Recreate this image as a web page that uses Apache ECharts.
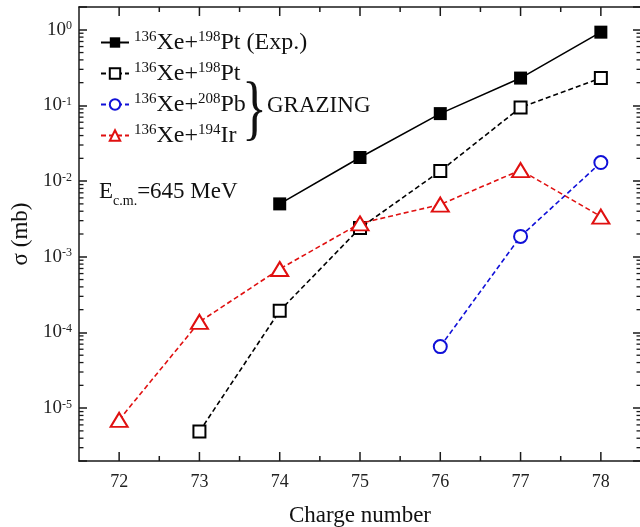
<!DOCTYPE html>
<html><head><meta charset="utf-8">
<script src="https://cdn.jsdelivr.net/npm/echarts@6/dist/echarts.min.js"></script>
<style>html,body{margin:0;padding:0;background:#fff}#c{width:640px;height:527px}</style>
</head><body><div id="c"></div>
<script>
// ---- data ----
const chargeNumbers = [72, 73, 74, 75, 76, 77, 78];
const expPt      = [null, null, 5.0e-3, 2.05e-2, 7.8e-2, 0.23, 0.93];
const grazingPt  = [null, 4.9e-6, 1.93e-4, 2.4e-3, 1.36e-2, 9.4e-2, 0.23];
const grazingPb  = [null, null, null, null, 6.5e-5, 1.86e-3, 1.76e-2];
const grazingIr  = [7.0e-6, 1.38e-4, 6.9e-4, 2.76e-3, 4.9e-3, 1.4e-2, 3.4e-3];
const xTickLabels = [72, 73, 74, 75, 76, 77, 78];
const yTickExponents = [-5, -4, -3, -2, -1, 0];

const FONT = '"Liberation Serif", "Times New Roman", serif';
const AX = '#1a1a1a';
const X_MIN = 71.5, X_MAX = 78.5, Y_MIN = 2e-6, Y_MAX = 2;

function pairs(arr) {
  return chargeNumbers.map((c, i) => [c, arr[i]]).filter(p => p[1] != null);
}
// tick positions (axis decoration)
const yMinor = [];
for (let e = -6; e <= 0; e++) for (let k = 2; k <= 9; k++) {
  const v = k * Math.pow(10, e);
  if (v > Y_MIN && v < Y_MAX) yMinor.push([75, v]);
}
const xTicks = [];
xTickLabels.forEach((t, i) => {
  xTicks.push([t, 9]);
  if (i < xTickLabels.length - 1) xTicks.push([t + 0.5, 5]);
});

const legendText = {
  'exp': '{sup|136}Xe+{sup|198}Pt (Exp.)',
  'pt': '{sup|136}Xe+{sup|198}Pt',
  'pb': '{sup|136}Xe+{sup|208}Pb',
  'ir': '{sup|136}Xe+{sup|194}Ir'
};

const chart = echarts.init(document.getElementById('c'), null, {renderer: 'canvas'});

const xBase = {
  type: 'value', min: X_MIN, max: X_MAX, interval: 0.5,
  splitLine: {show: false},
  axisLine: {show: true, onZero: false, lineStyle: {color: AX, width: 1.5}},
  axisTick: {show: false},
};
const yBase = {
  type: 'log', logBase: 10, min: Y_MIN, max: Y_MAX,
  splitLine: {show: false},
  axisLine: {show: true, onZero: false, lineStyle: {color: AX, width: 1.5}},
  axisTick: {show: true, inside: true, length: 8, lineStyle: {color: AX, width: 1.5}},
};

const option = {
  backgroundColor: '#fff',
  animation: false,
  grid: {left: 79, right: -1, top: 7, bottom: 66, containLabel: false, outerBoundsMode: 'none'},
  xAxis: [
    Object.assign({}, xBase, {
      position: 'bottom',
      name: 'Charge number', nameLocation: 'middle', nameGap: 43,
      nameTextStyle: {fontFamily: FONT, fontSize: 23, color: '#111'},
      axisLabel: {
        fontFamily: FONT, fontSize: 18, color: '#222', margin: 12,
        formatter: v => {
          const r = Math.round(v);
          return (Math.abs(v - r) < 1e-6 && xTickLabels.indexOf(r) >= 0) ? String(r) : '';
        }
      }
    }),
    Object.assign({}, xBase, {position: 'top', axisLabel: {show: false}})
  ],
  yAxis: [
    Object.assign({}, yBase, {
      position: 'left',
      name: 'σ (mb)', nameLocation: 'middle', nameGap: 47, nameRotate: 90,
      nameTextStyle: {fontFamily: FONT, fontSize: 23, color: '#111'},
      axisLabel: {
        fontFamily: FONT, fontSize: 19, color: '#222', margin: 7,
        formatter: v => {
          const e = Math.log10(v);
          const r = Math.round(e);
          if (Math.abs(e - r) > 1e-6 || yTickExponents.indexOf(r) < 0) return '';
          return '10{sup|' + r + '}';
        },
        rich: {sup: {fontFamily: FONT, fontSize: 12, color: '#222', verticalAlign: 'top', lineHeight: 12}}
      }
    }),
    Object.assign({}, yBase, {position: 'right', axisLabel: {show: false}})
  ],
  legend: {
    orient: 'vertical', left: 100, top: 30, padding: 0, itemWidth: 28, itemHeight: 13, itemGap: 6,
    selectedMode: false,
    data: ['exp', 'pt', 'pb', 'ir'],
    formatter: n => legendText[n],
    textStyle: {
      fontFamily: FONT, fontSize: 24, color: '#111', lineHeight: 25,
      rich: {sup: {fontFamily: FONT, fontSize: 15, color: '#111', verticalAlign: 'top', lineHeight: 15}}
    }
  },
  graphic: [
    {type: 'text', x: 242, y: 112, scaleX: 0.72, style: {text: '}', font: '72px ' + FONT, fill: '#111', verticalAlign: 'middle', align: 'left'}},
    {type: 'text', x: 267, y: 106, style: {text: 'GRAZING', font: '23px ' + FONT, fill: '#111', verticalAlign: 'middle', align: 'left'}},
    {type: 'text', x: 99, y: 194, style: {
      text: '{n|E}{sub|c.m.}{n|=645 MeV}', fill: '#111', verticalAlign: 'middle', align: 'left',
      rich: {n: {fontFamily: FONT, fontSize: 23, color: '#111', lineHeight: 28, verticalAlign: 'top'},
             sub: {fontFamily: FONT, fontSize: 14, color: '#111', lineHeight: 14, verticalAlign: 'bottom'}}
    }}
  ],
  series: [
    {
      name: 'exp', type: 'line', data: pairs(expPt), symbol: 'rect', symbolSize: 13,
      itemStyle: {color: '#000'}, lineStyle: {color: '#000', width: 1.6, type: 'solid'}, z: 3
    },
    {
      name: 'pt', type: 'line', data: pairs(grazingPt), symbol: 'emptyRect', symbolSize: 12,
      itemStyle: {color: '#000', borderWidth: 2}, lineStyle: {color: '#000', width: 1.6, type: [5, 3]}, z: 4
    },
    {
      name: 'pb', type: 'line', data: pairs(grazingPb), symbol: 'emptyCircle', symbolSize: 13,
      itemStyle: {color: '#1010d8', borderWidth: 2}, lineStyle: {color: '#1010d8', width: 1.6, type: [5, 3]}, z: 5
    },
    {
      name: 'ir', type: 'line', data: pairs(grazingIr), symbol: 'emptyTriangle', symbolSize: [17, 14],
      itemStyle: {color: '#e01010', borderWidth: 2}, lineStyle: {color: '#e01010', width: 1.6, type: [5, 3]}, z: 6
    },
    {
      type: 'custom', silent: true, clip: false, data: yMinor, z: 2,
      renderItem: (params, api) => {
        const v = api.value(1);
        const pl = api.coord([X_MIN, v]);
        const pr = api.coord([X_MAX, v]);
        return {type: 'group', children: [
          {type: 'line', shape: {x1: pl[0], y1: pl[1], x2: pl[0] + 4.5, y2: pl[1]}, style: {stroke: AX, lineWidth: 1.3}},
          {type: 'line', shape: {x1: pr[0], y1: pr[1], x2: pr[0] - 4.5, y2: pr[1]}, style: {stroke: AX, lineWidth: 1.3}}
        ]};
      }
    },
    {
      type: 'custom', silent: true, clip: false, data: xTicks, z: 2,
      renderItem: (params, api) => {
        const x = api.value(0);
        const len = api.value(1);
        const pb = api.coord([x, Y_MIN]);
        const pt = api.coord([x, Y_MAX]);
        return {type: 'group', children: [
          {type: 'line', shape: {x1: pb[0], y1: pb[1], x2: pb[0], y2: pb[1] - len}, style: {stroke: AX, lineWidth: 1.5}},
          {type: 'line', shape: {x1: pt[0], y1: pt[1], x2: pt[0], y2: pt[1] + len}, style: {stroke: AX, lineWidth: 1.5}}
        ]};
      }
    }
  ]
};
chart.setOption(option);
</script>
</body></html>
